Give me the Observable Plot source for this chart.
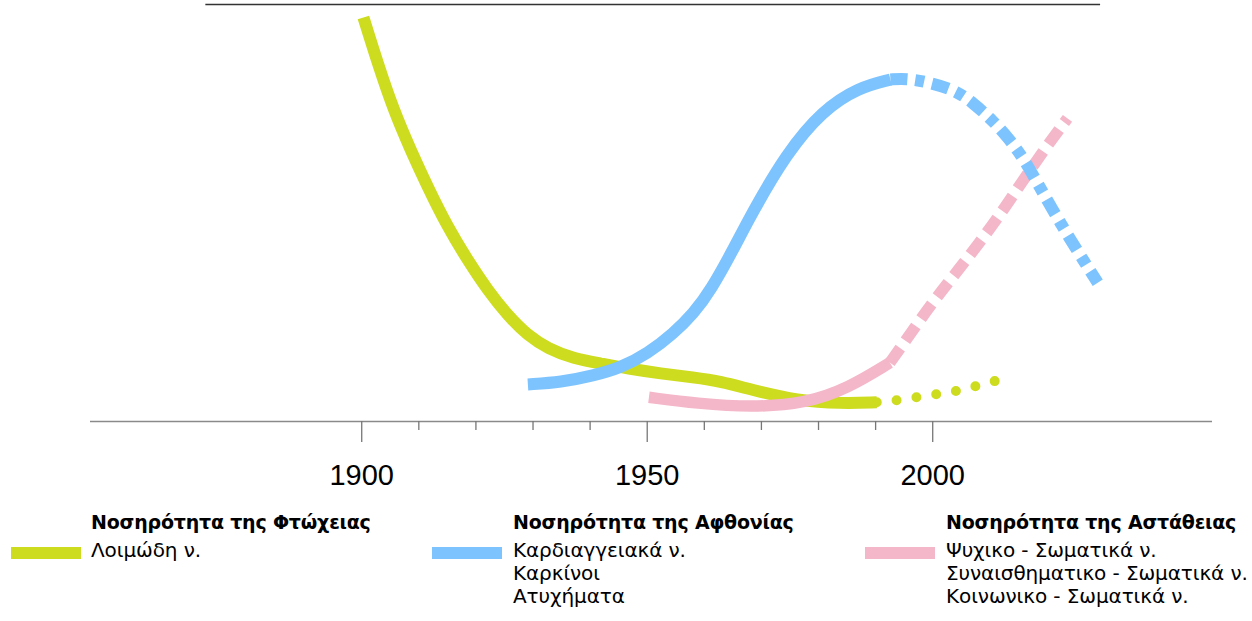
<!DOCTYPE html>
<html>
<head>
<meta charset="utf-8">
<script src="https://cdn.jsdelivr.net/npm/d3@7"></script>
<script src="https://cdn.jsdelivr.net/npm/@observablehq/plot@0.6"></script>
<style>
  html, body { margin: 0; padding: 0; background: #fff; }
  body { width: 1252px; height: 621px; position: relative; overflow: hidden;
         font-family: "Liberation Sans", Arial, Helvetica, sans-serif; }
  #chart { position: absolute; left: 0; top: 0; }
  .lg { position: absolute; color: #000; font-family: "DejaVu Sans", sans-serif; font-size: 20px; line-height: 23px; letter-spacing: -0.1px; }
  .lg .t { font-weight: bold; font-size: 19px; letter-spacing: -0.2px; margin-bottom: 5px; }
  .sw { position: absolute; width: 70px; height: 12px; }
</style>
</head>
<body>
<div id="chart"></div>
<div class="sw" id="sw0" style="left:11px;top:547px"></div>
<div class="lg" id="lg0" style="left:91px;top:511px"></div>
<div class="sw" id="sw1" style="left:432px;top:547px"></div>
<div class="lg" id="lg1" style="left:513px;top:511px"></div>
<div class="sw" id="sw2" style="left:865px;top:547px"></div>
<div class="lg" id="lg2" style="left:946px;top:511px"></div>
<script>
// ---- data ----
const colors = ["#cddc1f", "#7dc3fe", "#f4b6c9"];
const groupTitles = ["Νοσηρότητα της Φτώχειας", "Νοσηρότητα της Αφθονίας", "Νοσηρότητα της Αστάθειας"];
const groupItems = [
  ["Λοιμώδη ν."],
  ["Καρδιαγγειακά ν.", "Καρκίνοι", "Ατυχήματα"],
  ["Ψυχικο - Σωματικά ν.", "Συναισθηματικο - Σωματικά ν.", "Κοινωνικο - Σωματικά ν."]
];
const majorTicks = [1900, 1950, 2000];
const minorTicks = [1910, 1920, 1930, 1940, 1960, 1970, 1980, 1990];
const xDomain = [1852.5, 2049];
const topRule = [{y: 100, from: 1872.7, to: 2029.4}];

// [year, relative level]
const povertySolid = [[1900.3,96.9],[1902.8,85.9],[1905.6,74.6],[1908.6,65.0],[1911.6,56.1],[1915.1,46.5],[1918.6,38.6],[1922.1,31.4],[1925.6,25.4],[1929.1,20.6],[1932.6,17.5],[1937.1,15.1],[1941.9,13.9],[1946.6,12.7],[1952.4,11.5],[1958.1,10.6],[1962.9,9.6],[1968.3,7.6],[1976.4,5.0],[1983.9,4.3],[1990.2,4.6]];
const povertyDotted = [[1990.2,4.6],[1993.3,5.0],[1997.0,5.8],[2000.5,6.5],[2003.9,7.2],[2007.4,8.4],[2010.9,9.7]];
const affluenceSolid = [[1929.1,8.9],[1934.9,9.4],[1940.6,11.0],[1945.4,12.9],[1950.1,16.3],[1954.6,21.1],[1958.1,25.9],[1961.1,31.4],[1965.1,41.3],[1968.3,49.9],[1974.4,64.3],[1980.7,74.6],[1987.0,80.1],[1992.6,82.0]];
const affluenceDashed = [[1992.6,82.0],[1995.3,82.3],[1999.5,81.3],[2004.0,79.4],[2007.0,76.5],[2010.5,72.2],[2013.3,67.9],[2015.8,63.3],[2017.9,58.3],[2019.8,53.7],[2021.9,48.7],[2024.0,43.9],[2026.4,38.6],[2028.9,33.3]];
const instabilitySolid = [[1950.3,5.8],[1958.8,4.3],[1968.3,3.4],[1977.6,4.3],[1985.1,7.9],[1992.5,14.1]];
const instabilityDashed = [[1992.5,14.1],[1994.9,18.7],[1999.8,28.3],[2004.0,35.5],[2008.1,42.7],[2012.3,50.6],[2015.8,57.8],[2019.8,65.7],[2023.6,72.7]];

const X = d => d[0], Y = d => d[1];
const ln = (data, color, extra) => Plot.line(data, Object.assign({x: X, y: Y, stroke: color, strokeWidth: 12, curve: "basis", strokeLinecap: "butt", strokeLinejoin: "round"}, extra || {}));

const chart = Plot.plot({
  width: 1252,
  height: 500,
  marginLeft: 90,
  marginRight: 40,
  marginTop: 4,
  marginBottom: 79,
  style: {fontFamily: "'Liberation Sans', Arial, Helvetica, sans-serif", background: "#fff"},
  x: {domain: xDomain},
  y: {domain: [0, 100], axis: null},
  marks: [
    Plot.ruleY([0], {stroke: "#8a8a8a", strokeWidth: 1.5}),
    Plot.ruleY(topRule, {y: "y", x1: "from", x2: "to", stroke: "#333", strokeWidth: 1.5}),
    Plot.axisX(minorTicks, {tickSize: 9, tickFormat: () => "", stroke: "#777", strokeWidth: 1.3}),
    Plot.axisX(majorTicks, {tickSize: 21, tickPadding: 22, tickFormat: d => String(d), fontSize: 29, stroke: "#777", strokeWidth: 1.3, fill: "#000"}),
    ln(povertySolid, colors[0]),
    ln(povertyDotted, colors[0], {strokeWidth: 10, strokeDasharray: "0 20", strokeLinecap: "round"}),
    ln(instabilitySolid, colors[2], {strokeWidth: 11.5}),
    ln(instabilityDashed, colors[2], {strokeWidth: 11.5, strokeDasharray: "18 9"}),
    ln(affluenceSolid, colors[1]),
    ln(affluenceDashed, colors[1], {strokeDasharray: "17 8 9 8"})
  ]
});
document.getElementById("chart").appendChild(chart);

for (let i = 0; i < 3; i++) {
  document.getElementById("sw" + i).style.background = colors[i];
  const lg = document.getElementById("lg" + i);
  const t = document.createElement("div");
  t.className = "t";
  t.textContent = groupTitles[i];
  lg.appendChild(t);
  for (const it of groupItems[i]) {
    const d = document.createElement("div");
    d.textContent = it;
    lg.appendChild(d);
  }
}
</script>
</body>
</html>
